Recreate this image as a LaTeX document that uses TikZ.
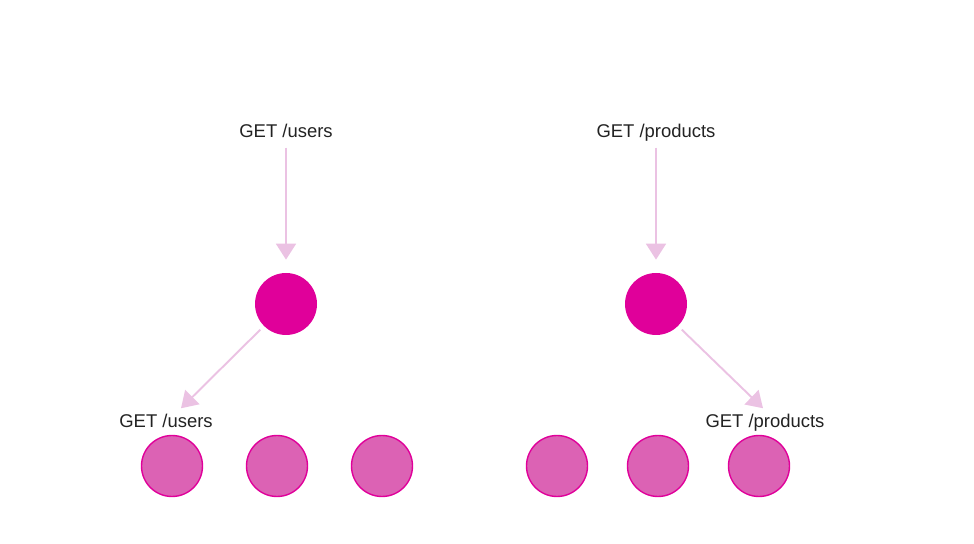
\documentclass[tikz,border=0pt]{standalone}
\usepackage{fontspec}
\setmainfont{Liberation Sans}
\usetikzlibrary{arrows.meta}
\definecolor{hotpink}{RGB}{224,0,154}
\definecolor{softpink}{RGB}{220,98,180}
\definecolor{paleline}{RGB}{235,194,227}
\definecolor{labelgray}{RGB}{34,34,34}
\begin{document}
\begin{tikzpicture}[font=\fontsize{10.5}{12}\selectfont, text=labelgray,
    reqtext/.style={text height=0.75em, text depth=0.22em},
    server/.style={circle, fill=hotpink, minimum size=1.24cm, inner sep=0pt},
    replica/.style={circle, fill=softpink, draw=hotpink, line width=0.8pt, minimum size=1.22cm, inner sep=0pt},
    link/.style={draw=paleline, line width=1.1pt, -{Triangle[width=0.4cm, length=0.32cm]}}]
          \useasboundingbox (0, 0) rectangle (19.48, 10.88);
          \node[reqtext] (usersin) at (5.72, 8.22) {GET /users};
          \node[server] (userstop) at (5.72, 4.8) {};
          \node[reqtext] (usersout) at (3.32, 2.42) {GET /users};
          \node[replica] (usersa) at (3.44, 1.56) {};
          \node[replica] (usersb) at (5.54, 1.56) {};
          \node[replica] (usersc) at (7.64, 1.56) {};
          \draw[link, shorten >=0.26cm] (usersin) -- (userstop);
          \draw[link, shorten <=0.1cm] (userstop.225) -- ([xshift=0.3cm]usersout.north);
          \node[reqtext] (productsin) at (13.12, 8.22) {GET /products};
          \node[server] (productstop) at (13.12, 4.8) {};
          \node[reqtext] (productsout) at (15.3, 2.42) {GET /products};
          \node[replica] (productsa) at (11.14, 1.56) {};
          \node[replica] (productsb) at (13.16, 1.56) {};
          \node[replica] (productsc) at (15.18, 1.56) {};
          \draw[link, shorten >=0.26cm] (productsin) -- (productstop);
          \draw[link, shorten <=0.1cm] (productstop.-45) -- ([xshift=-0.04cm]productsout.north);
        \end{tikzpicture}
\end{document}
